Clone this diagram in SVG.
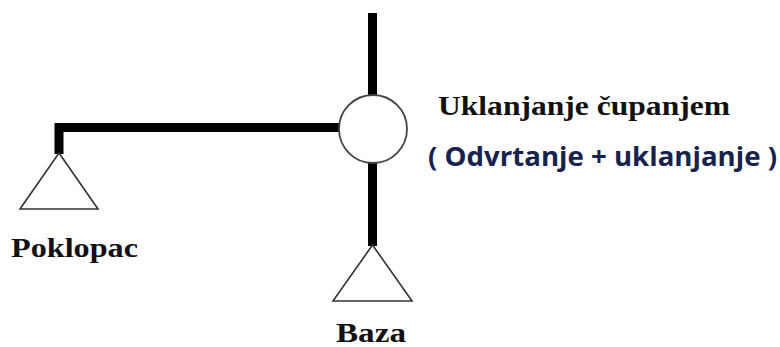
<svg xmlns="http://www.w3.org/2000/svg" width="780" height="347" viewBox="0 0 780 347">
<style>
.line{stroke:#000;stroke-width:9;fill:none}
.tri{fill:#fff;stroke:#333;stroke-width:1.6}
.lbl{font-family:"Liberation Serif","DejaVu Serif",serif;font-weight:bold;font-size:28px;fill:#111}
.sub{font-family:"Open Sans","Liberation Sans",sans-serif;font-weight:bold;font-size:27px;fill:#17224f}
</style>
<rect width="780" height="347" fill="#fff"/>
<g id="connectors">
<line class="line" x1="372.5" y1="13" x2="372.5" y2="96"/>
<line class="line" x1="372.5" y1="162" x2="372.5" y2="246"/>
<polyline class="line" points="339,127.5 59,127.5 59,154"/>
</g>
<g id="node-root">
<circle cx="373" cy="129" r="34" fill="#fff" stroke="#444" stroke-width="1.8"/>
<text class="lbl" x="438" y="115" textLength="292" lengthAdjust="spacingAndGlyphs">Uklanjanje čupanjem</text>
<text class="sub" x="428" y="166" textLength="349" lengthAdjust="spacingAndGlyphs">( Odvrtanje + uklanjanje )</text>
</g>
<g id="node-poklopac">
<polygon class="tri" points="59,153 20,209 98,209"/>
<text class="lbl" x="11" y="257" textLength="127" lengthAdjust="spacingAndGlyphs">Poklopac</text>
</g>
<g id="node-baza">
<polygon class="tri" points="372.5,245 333,301 412,301"/>
<text class="lbl" x="336" y="342" textLength="70" lengthAdjust="spacingAndGlyphs">Baza</text>
</g>
</svg>
